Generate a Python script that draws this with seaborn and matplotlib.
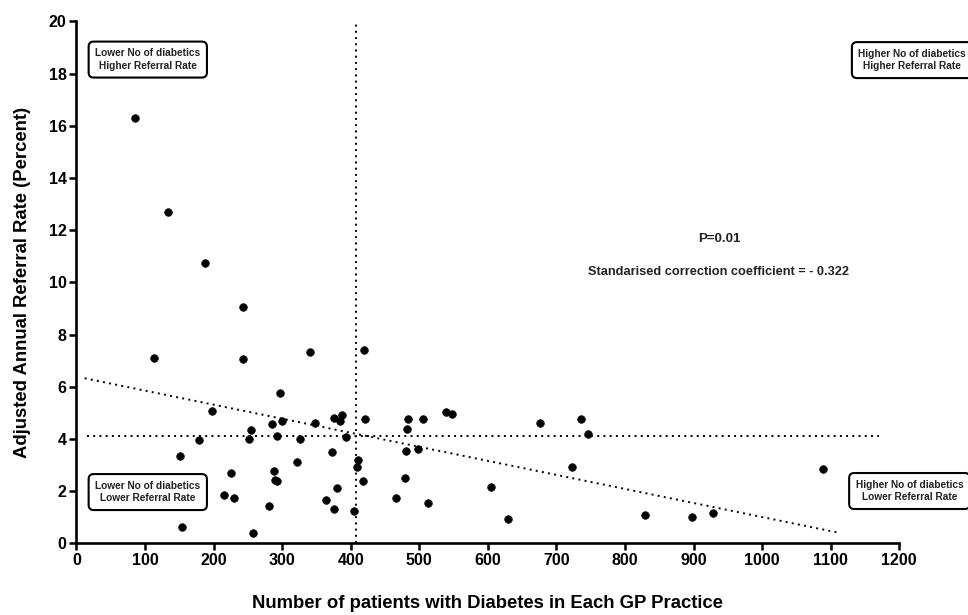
import numpy as np
import pandas as pd
import matplotlib
matplotlib.use("Agg")
import matplotlib.pyplot as plt
import seaborn as sns

# ── Data ──────────────────────────────────────────────────────────────────────
n_diabetics = [
    86, 134, 187, 243, 113, 243, 341, 420, 297, 198,
    285, 300, 255, 251, 293, 178, 326, 348, 376, 387,
    385, 393, 421, 373, 321, 151, 225, 288, 290, 293,
    215, 230, 281, 154, 257, 364, 375, 380, 405, 410,
    409, 418, 484, 482, 505, 539, 548, 481, 498, 479,
    466, 512, 676, 736, 746, 723, 604, 630, 829, 898,
    928, 1089,
]
referral_rate = [
    16.3, 12.7, 10.75, 9.05, 7.1, 7.05, 7.35, 7.42, 5.75, 5.08,
    4.58, 4.71, 4.34, 3.99, 4.12, 3.95, 4.0, 4.63, 4.8, 4.94,
    4.69, 4.08, 4.78, 3.5, 3.14, 3.35, 2.69, 2.79, 2.43, 2.41,
    1.86, 1.76, 1.44, 0.64, 0.39, 1.67, 1.33, 2.11, 1.23, 3.19,
    2.94, 2.39, 4.77, 4.39, 4.77, 5.05, 4.97, 3.56, 3.62, 2.52,
    1.73, 1.56, 4.62, 4.78, 4.2, 2.93, 2.16, 0.95, 1.08, 1.0,
    1.18, 2.87,
]

# reference lines: mean x, mean y, fitted trend (end points)
mean_x = 407
mean_x_span = [0, 19.9]
mean_y = 4.12
mean_y_span = [15, 1170]
trend_x = [12, 1112]
trend_y = [6.33, 0.41]

quadrant_labels = [
    "Lower No of diabetics\nHigher Referral Rate",
    "Higher No of diabetics\nHigher Referral Rate",
    "Lower No of diabetics\nLower Referral Rate",
    "Higher No of diabetics\nLower Referral Rate",
]
quadrant_x = [104, 1219, 104, 1215]
quadrant_y = [18.54, 18.52, 1.97, 2.01]

df = pd.DataFrame({"n": n_diabetics, "rate": referral_rate})

# ── Style ─────────────────────────────────────────────────────────────────────
sns.set_style("ticks")
plt.rcParams["font.family"] = ["Liberation Sans", "DejaVu Sans"]
plt.rcParams["font.weight"] = "bold"
plt.rcParams["text.color"] = "black"
plt.rcParams["axes.labelcolor"] = "black"
plt.rcParams["xtick.color"] = "black"
plt.rcParams["ytick.color"] = "black"
plt.rcParams["axes.edgecolor"] = "black"

fig = plt.figure(figsize=(9.68, 6.15), dpi=100)
ax = fig.add_axes([0.079, 0.1163, 0.850, 0.8488])

dots = (0, (1, 2.2))
ax.plot([mean_x, mean_x], mean_x_span, color="black", lw=1.4, ls=dots)
ax.plot(mean_y_span, [mean_y, mean_y], color="black", lw=1.4, ls=dots)
ax.plot(trend_x, trend_y, color="black", lw=1.4, ls=dots)

sns.scatterplot(data=df, x="n", y="rate", color="black", s=30,
                edgecolor="black", linewidth=0.5, ax=ax, zorder=3)

for txt, tx, ty in zip(quadrant_labels, quadrant_x, quadrant_y):
    ax.text(tx, ty, txt, ha="center", va="center", fontsize=7.3,
            fontweight="bold", color="#222222", multialignment="center",
            linespacing=1.35, clip_on=False, zorder=4,
            bbox=dict(boxstyle="round,pad=0.65,rounding_size=0.5",
                      fc="white", ec="black", lw=1.5))

ax.text(938, 11.65, "P=0.01", ha="center", va="center",
        fontsize=9.5, fontweight="bold", color="#222222")
ax.text(936, 10.4, "Standarised correction coefficient = - 0.322",
        ha="center", va="center", fontsize=9.2, fontweight="bold",
        color="#222222")

ax.set_xlim(0, 1200)
ax.set_ylim(0, 20)
ax.set_xticks(np.arange(0, 1201, 100))
ax.set_yticks(np.arange(0, 21, 2))
ax.tick_params(axis="both", direction="out", length=5, width=1.8,
               labelsize=11.5, pad=2, colors="black")
for lbl in ax.get_xticklabels() + ax.get_yticklabels():
    lbl.set_fontweight("bold")

ax.set_xlabel("Number of patients with Diabetes in Each GP Practice",
              fontsize=13.3, fontweight="bold", labelpad=19)
ax.set_ylabel("Adjusted Annual Referral Rate (Percent)",
              fontsize=13.3, fontweight="bold", labelpad=13)

sns.despine(ax=ax)
for side in ["left", "bottom"]:
    ax.spines[side].set_linewidth(1.9)

fig.savefig("out.png", dpi=100)
